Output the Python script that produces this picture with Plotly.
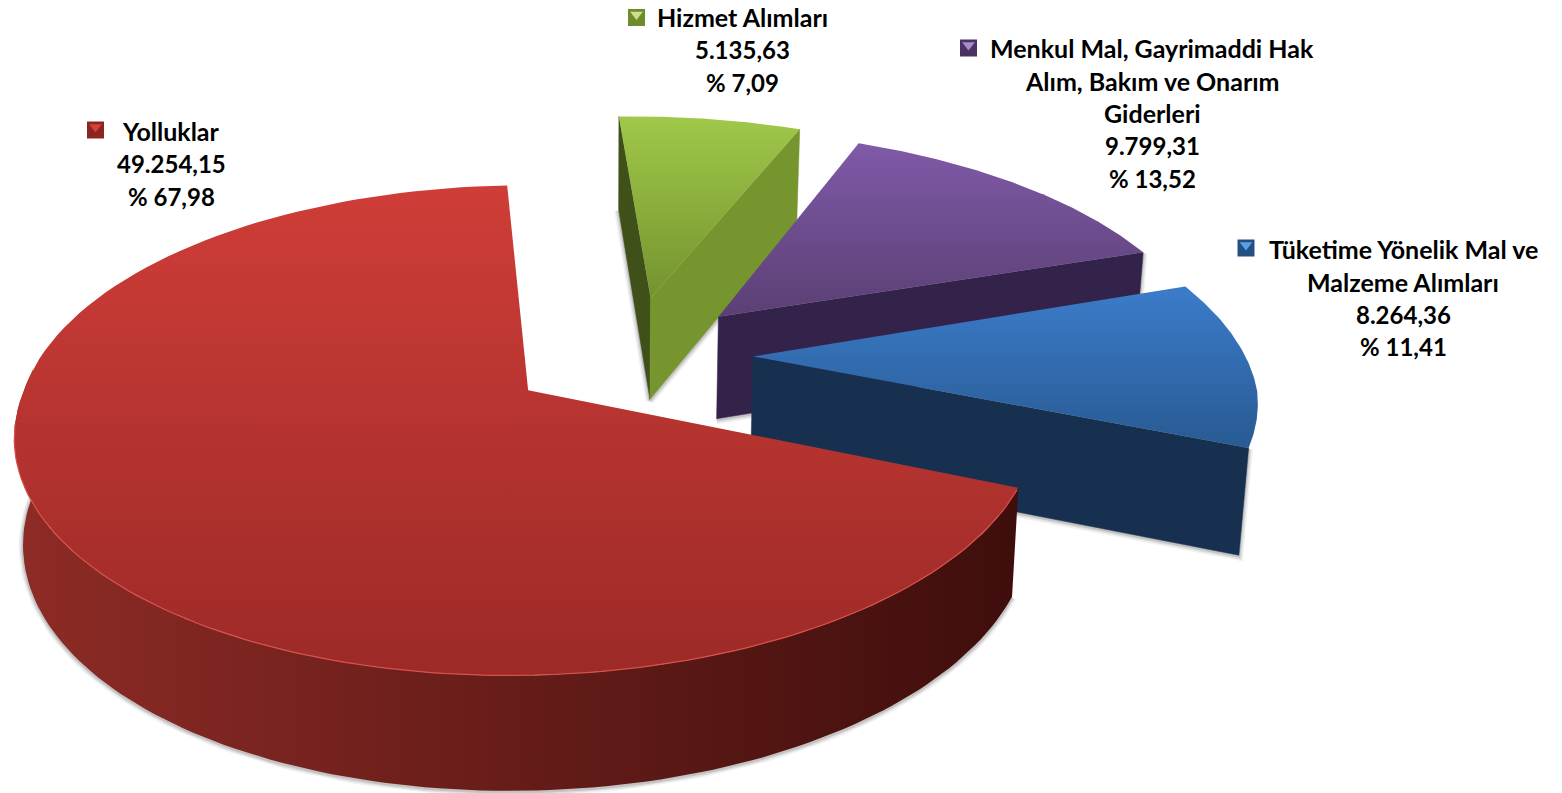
import math
import plotly.graph_objects as go

# ---- data ----
categories = ["Yolluklar", "Hizmet Alımları", "Menkul Mal, Gayrimaddi Hak Alım, Bakım ve Onarım Giderleri",
              "Tüketime Yönelik Mal ve Malzeme Alımları"]
values = [49254.15, 5135.63, 9799.31, 8264.36]
percents = [67.98, 7.09, 13.52, 11.41]
label_lines = [["Yolluklar"], ["Hizmet Alımları"],
               ["Menkul Mal, Gayrimaddi Hak", "Alım, Bakım ve Onarım", "Giderleri"],
               ["Tüketime Yönelik Mal ve", "Malzeme Alımları"]]

# ---- styles ----
pulls = [0.265, 0.265, 0.255, 0.24]
nudge_x = [0, -0.006, -0.007, 0]
nudge_angle = [0.3, 0.9, 0.6, 0.0]
top_colors = [("#9c2a27", "#cf3d38"), ("#74932e", "#a0c84a"), ("#5b3f74", "#7f5aa8"), ("#295a92", "#3b7cca")]
wall_colors = [("#8e2b26", "#3e0e0c"), ("#76952f", "#76952f"), ("#33234a", "#33234a"), ("#173050", "#173050")]
key_colors = [("#d2423d", "#8a2522"), ("#a6cc52", "#6f8c2c"), ("#8560ad", "#4b3263"), ("#3f80cf", "#23507f")]
key_light = ["#d5423e", "#c9de8e", "#a78cca", "#5aa0e6"]
draw_order = [1, 2, 3, 0]
label_anchor = [(171, 131), (742, 17), (1152, 48), (1403, 249)]
key_pos = [(95.5, 130), (636.5, 17.5), (968.5, 48), (1246, 248)]
LINE_H = 32.6
FONT = "Lato"
FS = 25
FS_NUM = 24
TEXT_COLOR = "#000000"

# ---- projection of the tilted, perspective pie ----
X0, Y0 = 528, 390          # screen position of plane origin
AX, BY, K = 504, 238.5, 0.163
SKEW = 16                  # near half of the disc leans to the left
THICK, K2 = 105, 0.09
VX, VS = 600, 0.985        # bottom plane converges slightly
CX, CY = 0.217, 0.151      # un-exploded pie centre in plane coords
START = 112.2


def top(X, Y):
    d = 1 + K * Y
    return X0 + (AX * X + SKEW * min(Y, 0)) / d, Y0 - BY * Y / d


def bottom(X, Y):
    x, y = top(X, Y)
    return VX + (x - VX) * VS, y + THICK / (1 + K2 * Y)


def frange(a, b, n=120):
    return [a + (b - a) * i / n for i in range(n + 1)]


total = sum(values)
fig = go.Figure()


def poly(pts, c0, c1, kind="vertical"):
    xs, ys = zip(*pts)
    fig.add_trace(go.Scatter(
        x=list(xs) + [xs[0]], y=list(ys) + [ys[0]], mode="lines", fill="toself",
        line=dict(width=0.5, color=c1 if c0 == c1 else "rgba(0,0,0,0)"),
        fillgradient=dict(type=kind, colorscale=[[0, c0], [1, c1]]),
        hoverinfo="skip", showlegend=False))


def shadow(pts):
    xs, ys = zip(*pts)
    for w, a in ((9, 0.05), (6, 0.08), (3, 0.12)):
        fig.add_trace(go.Scatter(x=list(xs), y=[y + 1 for y in ys], mode="lines",
                                 line=dict(width=w, color=f"rgba(0,0,0,{a})"),
                                 hoverinfo="skip", showlegend=False))


# slice geometry
geo = []
ang = START
for v, p, nx, na in zip(values, pulls, nudge_x, nudge_angle):
    sw = 360 * v / total
    a0, a1 = ang + na, ang + sw + na
    mid = math.radians((a0 + a1) / 2)
    geo.append((a0, a1, CX + nx + p * math.sin(mid), CY + p * math.cos(mid)))
    ang += sw

for i in draw_order:
    a0, a1, cx, cy = geo[i]
    pt = lambda a, f=top: f(cx + math.sin(math.radians(a)), cy + math.cos(math.radians(a)))
    arc = [pt(a) for a in frange(a0, a1)]
    apex_t, apex_b = top(cx, cy), bottom(cx, cy)
    w0, w1 = wall_colors[i]

    # front part of the outer wall (only the big slice shows one)
    front = frange(a0, 275) if i == 0 else []
    # soft cast shadow under the solid
    if front:
        shadow([pt(a, bottom) for a in front])
    if i == 1:
        shadow([pt(a0, bottom), apex_b, pt(a1, bottom)])
    if i in (2, 3):
        shadow([apex_b, pt(a1, bottom), pt(a1)])

    # radial walls that face the viewer
    if i == 1:
        poly([pt(a0), apex_t, apex_b, pt(a0, bottom)], "#3f5119", "#3f5119")
    if i in (1, 2, 3):
        poly([apex_t, pt(a1), pt(a1, bottom), apex_b], w0, w1, "horizontal")
    if front:
        poly([pt(a) for a in front] + [pt(a, bottom) for a in reversed(front)], w0, w1, "horizontal")

    # top face
    poly([apex_t] + arc, top_colors[i][0], top_colors[i][1], "vertical")

    # light rim on the big slice
    if i == 0:
        rim = [pt(a) for a in frange(a0 + 0.5, 262)]
        fig.add_trace(go.Scatter(x=[p[0] for p in rim], y=[p[1] for p in rim], mode="lines",
                                 line=dict(width=1.2, color="#d8504b"),
                                 hoverinfo="skip", showlegend=False))

# legend keys
for (kx, ky), (c0, c1), cl in zip(key_pos, key_colors, key_light):
    fig.add_trace(go.Scatter(x=[kx], y=[ky], mode="markers",
                             marker=dict(symbol="square", size=17, color=c1, line=dict(width=0)),
                             hoverinfo="skip", showlegend=False))
    fig.add_trace(go.Scatter(x=[kx], y=[ky - 3], mode="markers",
                             marker=dict(symbol="triangle-down", size=11, color=cl, line=dict(width=0)),
                             hoverinfo="skip", showlegend=False))


def fmt(v):
    return f"{v:,.2f}".replace(",", "#").replace(".", ",").replace("#", ".")


# labels, one annotation per line
for lines, v, pc, (ax, ay) in zip(label_lines, values, percents, label_anchor):
    numeric = [fmt(v), "% " + f"{pc:.2f}".replace(".", ",")]
    all_lines = [(t, FS) for t in lines] + [(t, FS_NUM) for t in numeric]
    for n, (t, size) in enumerate(all_lines):
        fig.add_annotation(x=ax, y=ay + n * LINE_H, xref="x", yref="y", text=t, showarrow=False,
                           xanchor="center", yanchor="middle",
                           font=dict(family=FONT, size=size, color=TEXT_COLOR, weight=700))

fig.update_layout(
    width=1562, height=793, margin=dict(l=0, r=0, t=0, b=0),
    paper_bgcolor="white", plot_bgcolor="white", showlegend=False,
    xaxis=dict(range=[0, 1562], visible=False, fixedrange=True),
    yaxis=dict(range=[793, 0], visible=False, fixedrange=True),
)
fig.write_html("out.html", config=dict(displayModeBar=False),
               post_script="document.body.style.margin='0';")
